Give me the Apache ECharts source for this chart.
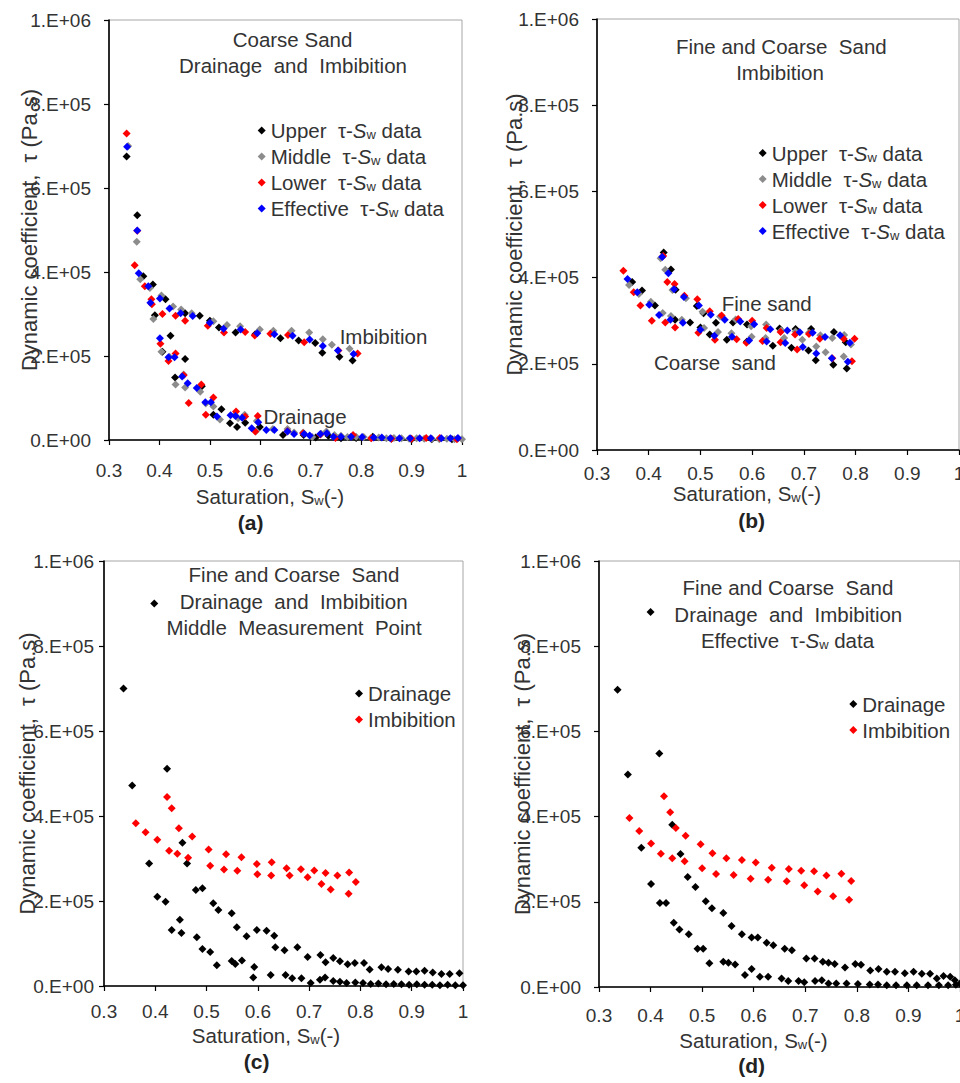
<!DOCTYPE html>
<html><head><meta charset="utf-8">
<script src="https://cdn.jsdelivr.net/npm/echarts@6.0.0/dist/echarts.min.js"></script>
<style>html,body{margin:0;padding:0;background:#fff}#c{width:960px;height:1083px}</style>
</head><body><div id="c"></div>
<script>
// ---------- tick labels ----------
const yTickLabels = ['0.E+00','2.E+05','4.E+05','6.E+05','8.E+05','1.E+06'];
const xTickLabels = ['0.3','0.4','0.5','0.6','0.7','0.8','0.9','1'];

// ---------- coarse sand data [Sw, tau (Pa.s)] ----------
const coarseUpperDrain = [[0.335,6.75e5],[0.356,5.35e5],[0.391,2.97e5],[0.406,2.10e5],[0.422,2.48e5],[0.431,1.49e5],[0.451,1.93e5],[0.484,1.28e5],[0.507,0.60e5],[0.523,0.73e5],[0.540,0.40e5],[0.554,0.31e5],[0.570,0.41e5],[0.599,0.31e5],[0.645,0.12e5],[0.686,0.12e5],[0.710,0.06e5],[0.735,0.10e5],[0.760,0.04e5],[0.790,0.05e5],[0.823,0.08e5],[0.860,0.03e5],[0.900,0.02e5],[0.940,0.02e5],[0.980,0.02e5]];
const coarseUpperImb = [[0.368,3.90e5],[0.387,3.70e5],[0.412,3.35e5],[0.451,3.02e5],[0.480,2.96e5],[0.500,2.84e5],[0.518,2.68e5],[0.551,2.56e5],[0.590,2.52e5],[0.640,2.42e5],[0.676,2.37e5],[0.709,2.31e5],[0.723,2.08e5],[0.757,1.98e5],[0.783,1.89e5]];
const coarseMiddleDrain = [[0.338,7.00e5],[0.355,4.72e5],[0.388,2.88e5],[0.404,2.10e5],[0.420,1.98e5],[0.432,1.32e5],[0.448,1.56e5],[0.451,1.25e5],[0.481,1.15e5],[0.492,0.87e5],[0.507,0.80e5],[0.520,0.49e5],[0.549,0.59e5],[0.556,0.52e5],[0.569,0.60e5],[0.591,0.20e5],[0.593,0.45e5],[0.625,0.26e5],[0.654,0.26e5],[0.667,0.18e5],[0.685,0.18e5],[0.703,0.07e5],[0.721,0.15e5],[0.731,0.20e5],[0.747,0.12e5],[0.760,0.10e5],[0.773,0.07e5],[0.790,0.08e5],[0.805,0.07e5],[0.820,0.05e5],[0.835,0.06e5],[0.850,0.04e5],[0.865,0.05e5],[0.880,0.04e5],[0.895,0.03e5],[0.910,0.04e5],[0.925,0.03e5],[0.940,0.03e5],[0.955,0.02e5],[0.970,0.03e5],[0.985,0.02e5],[1.000,0.02e5]];
const coarseMiddleImb = [[0.362,3.83e5],[0.381,3.62e5],[0.404,3.44e5],[0.427,3.18e5],[0.443,3.11e5],[0.464,3.02e5],[0.507,2.83e5],[0.534,2.74e5],[0.560,2.71e5],[0.599,2.63e5],[0.626,2.60e5],[0.662,2.60e5],[0.697,2.56e5],[0.724,2.40e5],[0.742,2.27e5],[0.777,2.17e5]];
const coarseLowerDrain = [[0.335,7.30e5],[0.356,4.98e5],[0.385,3.23e5],[0.402,2.29e5],[0.418,1.88e5],[0.432,2.06e5],[0.448,1.54e5],[0.458,0.88e5],[0.483,1.32e5],[0.492,0.60e5],[0.507,1.01e5],[0.552,0.68e5],[0.570,0.56e5],[0.590,0.20e5],[0.595,0.57e5],[0.654,0.21e5],[0.685,0.16e5],[0.719,0.13e5],[0.749,0.05e5],[0.784,0.12e5],[0.820,0.04e5],[0.860,0.03e5],[0.900,0.03e5],[0.929,0.05e5],[0.956,0.05e5],[0.990,0.02e5]];
const coarseLowerImb = [[0.351,4.16e5],[0.371,3.66e5],[0.384,3.35e5],[0.406,3.00e5],[0.432,2.96e5],[0.451,2.84e5],[0.496,2.72e5],[0.528,2.56e5],[0.570,2.57e5],[0.589,2.49e5],[0.620,2.53e5],[0.655,2.50e5],[0.687,2.33e5],[0.755,2.13e5],[0.793,2.06e5]];
const coarseEffDrain = [[0.336,6.98e5],[0.356,4.99e5],[0.382,3.27e5],[0.401,2.42e5],[0.418,1.97e5],[0.430,1.97e5],[0.445,1.51e5],[0.456,1.35e5],[0.474,1.24e5],[0.491,0.90e5],[0.502,0.90e5],[0.514,0.56e5],[0.541,0.59e5],[0.551,0.57e5],[0.564,0.53e5],[0.583,0.28e5],[0.596,0.42e5],[0.612,0.24e5],[0.628,0.24e5],[0.654,0.20e5],[0.667,0.14e5],[0.687,0.14e5],[0.698,0.11e5],[0.719,0.14e5],[0.732,0.16e5],[0.745,0.08e5],[0.760,0.08e5],[0.780,0.08e5],[0.802,0.07e5],[0.825,0.06e5],[0.841,0.06e5],[0.858,0.04e5],[0.876,0.04e5],[0.897,0.04e5],[0.916,0.04e5],[0.938,0.04e5],[0.959,0.04e5],[0.977,0.04e5],[0.992,0.05e5]];
const coarseEffImb = [[0.359,3.97e5],[0.378,3.66e5],[0.401,3.37e5],[0.420,3.13e5],[0.442,3.02e5],[0.466,2.95e5],[0.500,2.79e5],[0.527,2.65e5],[0.561,2.63e5],[0.594,2.54e5],[0.628,2.52e5],[0.664,2.48e5],[0.698,2.39e5],[0.724,2.24e5],[0.754,2.13e5],[0.785,2.05e5]];

// ---------- fine sand data [Sw, tau (Pa.s)] ----------
const fineUpperImb = [[0.429,4.58e5],[0.443,4.19e5],[0.452,3.72e5],[0.493,3.34e5],[0.506,3.17e5],[0.530,2.95e5],[0.563,2.96e5],[0.590,2.91e5],[0.653,2.82e5],[0.684,2.81e5],[0.714,2.81e5],[0.758,2.74e5],[0.781,2.50e5]];
const fineMiddleImb = [[0.423,4.45e5],[0.432,4.18e5],[0.446,3.71e5],[0.472,3.52e5],[0.504,3.21e5],[0.538,3.10e5],[0.568,3.03e5],[0.598,2.87e5],[0.627,2.91e5],[0.656,2.77e5],[0.684,2.75e5],[0.710,2.72e5],[0.732,2.66e5],[0.755,2.60e5],[0.778,2.67e5],[0.791,2.45e5]];
const fineLowerImb = [[0.428,4.50e5],[0.436,3.90e5],[0.450,3.85e5],[0.469,3.58e5],[0.494,3.50e5],[0.518,3.22e5],[0.541,3.12e5],[0.573,3.04e5],[0.600,3.00e5],[0.628,2.83e5],[0.655,2.74e5],[0.683,2.68e5],[0.710,2.69e5],[0.731,2.58e5],[0.777,2.58e5],[0.798,2.58e5]];
const fineEffImb = [[0.426,4.48e5],[0.438,4.10e5],[0.449,3.73e5],[0.468,3.55e5],[0.497,3.35e5],[0.520,3.14e5],[0.547,3.02e5],[0.577,2.98e5],[0.604,2.92e5],[0.635,2.80e5],[0.668,2.77e5],[0.692,2.73e5],[0.717,2.72e5],[0.741,2.62e5],[0.770,2.66e5],[0.789,2.49e5]];
const fineMiddleDrain = [[0.398,9.00e5],[0.423,5.11e5],[0.453,3.37e5],[0.462,2.88e5],[0.479,2.26e5],[0.492,2.30e5],[0.513,1.95e5],[0.523,1.79e5],[0.549,1.71e5],[0.559,1.38e5],[0.578,1.17e5],[0.598,1.32e5],[0.617,1.30e5],[0.632,1.18e5],[0.634,0.91e5],[0.652,0.84e5],[0.677,0.91e5],[0.697,0.68e5],[0.722,0.73e5],[0.732,0.56e5],[0.747,0.66e5],[0.760,0.58e5],[0.775,0.51e5],[0.789,0.54e5],[0.807,0.54e5],[0.818,0.39e5],[0.841,0.44e5],[0.854,0.40e5],[0.873,0.38e5],[0.894,0.34e5],[0.909,0.34e5],[0.925,0.36e5],[0.941,0.32e5],[0.958,0.28e5],[0.974,0.28e5],[0.993,0.30e5]];
const fineEffDrain = [[0.400,8.80e5],[0.417,5.48e5],[0.442,3.81e5],[0.458,3.12e5],[0.472,2.58e5],[0.487,2.35e5],[0.507,2.01e5],[0.519,1.85e5],[0.541,1.74e5],[0.557,1.43e5],[0.577,1.24e5],[0.596,1.16e5],[0.608,1.16e5],[0.625,1.04e5],[0.638,0.98e5],[0.660,0.90e5],[0.674,0.86e5],[0.702,0.67e5],[0.718,0.67e5],[0.734,0.59e5],[0.745,0.57e5],[0.757,0.54e5],[0.777,0.46e5],[0.797,0.54e5],[0.808,0.52e5],[0.826,0.39e5],[0.842,0.42e5],[0.858,0.36e5],[0.874,0.36e5],[0.893,0.32e5],[0.910,0.36e5],[0.926,0.31e5],[0.942,0.31e5],[0.955,0.20e5],[0.968,0.26e5],[0.981,0.24e5],[0.990,0.16e5],[1.000,0.08e5]];

// ---------- styling ----------
const FF = "'Liberation Sans', Arial, 'DejaVu Sans', sans-serif";
const TXT = '#333';
const COL = {upper:'#000000', middle:'#8c8c8c', lower:'#ff0000', eff:'#0000ff'};
const richBase = {
  n: {fontSize: 20.5, fontFamily: FF, color: TXT, lineHeight: 21},
  i: {fontSize: 20.5, fontFamily: FF, color: TXT, fontStyle: 'italic', lineHeight: 21},
  s: {fontSize: 13, fontFamily: FF, color: TXT, lineHeight: 9, verticalAlign: 'bottom'}
};
const legendLabel = {
  'Upper τ-Sw data': '{n|Upper  τ-}{i|S}{s|w}{n| data}',
  'Middle τ-Sw data': '{n|Middle  τ-}{i|S}{s|w}{n| data}',
  'Lower τ-Sw data': '{n|Lower  τ-}{i|S}{s|w}{n| data}',
  'Effective τ-Sw data': '{n|Effective  τ-}{i|S}{s|w}{n| data}',
  'Drainage': '{n|Drainage}',
  'Imbibition': '{n|Imbibition}'
};

const grids = [
  {left:109, top:20, width:353, height:420},
  {left:597, top:19, width:362, height:431},
  {left:104, top:561, width:359, height:425},
  {left:599, top:561, width:361, height:426}
];
const axisCfg = [
  {xMargin:21, yMargin:18, yGap:69, xGap:46, xPad:31},
  {xMargin:14, yMargin:18, yGap:72, xGap:33, xPad:62},
  {xMargin:16, yMargin:10, yGap:66, xGap:39, xPad:35},
  {xMargin:19, yMargin:18, yGap:66, xGap:43, xPad:52}
];

const xAxes = axisCfg.map((c, i) => ({
  gridIndex: i, type: 'value', min: 0.3, max: 1, interval: 0.1,
  axisLine: {show: true, onZero: false, lineStyle: {color: '#000', width: 1.6}},
  axisTick: {show: true, inside: false, length: 5, lineStyle: {color: '#000', width: 1.2}},
  splitLine: {show: false},
  axisLabel: {show: true, interval: 0, margin: c.xMargin, fontSize: 19, fontFamily: FF, color: TXT,
    formatter: v => xTickLabels[Math.round((v - 0.3) * 10)]},
  name: '{n|Saturation, S}{s|w}{n|(-)}',
  nameLocation: 'middle', nameGap: c.xGap, nameMoveOverlap: false,
  nameTextStyle: {rich: richBase, padding: [0, c.xPad, 0, 0]}
}));
const yAxes = axisCfg.map((c, i) => ({
  gridIndex: i, type: 'value', min: 0, max: 1e6, interval: 2e5,
  axisLine: {show: true, onZero: false, lineStyle: {color: '#000', width: 1.6}},
  axisTick: {show: true, inside: false, length: 5, lineStyle: {color: '#000', width: 1.2}},
  splitLine: {show: false},
  axisLabel: {show: true, interval: 0, margin: c.yMargin, fontSize: 19, fontFamily: FF, color: TXT,
    formatter: v => yTickLabels[Math.round(v / 2e5)]},
  name: 'Dynamic coefficient,  τ (Pa.s)',
  nameLocation: 'middle', nameGap: c.yGap, nameRotate: 90, nameMoveOverlap: false,
  nameTextStyle: {fontSize: 22, fontFamily: FF, color: TXT}
}));

function sc(name, data, color, gi) {
  return {type: 'scatter', name, data, xAxisIndex: gi, yAxisIndex: gi, symbol: 'diamond',
    symbolSize: 8, itemStyle: {color, opacity: 1}, silent: true, animation: false};
}
const series = [
  sc('Upper τ-Sw data', coarseUpperDrain.concat(coarseUpperImb), COL.upper, 0),
  sc('Middle τ-Sw data', coarseMiddleDrain.concat(coarseMiddleImb), COL.middle, 0),
  sc('Lower τ-Sw data', coarseLowerDrain.concat(coarseLowerImb), COL.lower, 0),
  sc('Effective τ-Sw data', coarseEffDrain.concat(coarseEffImb), COL.eff, 0),
  sc('Upper τ-Sw data', coarseUpperImb.concat(fineUpperImb), COL.upper, 1),
  sc('Middle τ-Sw data', coarseMiddleImb.concat(fineMiddleImb), COL.middle, 1),
  sc('Lower τ-Sw data', coarseLowerImb.concat(fineLowerImb), COL.lower, 1),
  sc('Effective τ-Sw data', coarseEffImb.concat(fineEffImb), COL.eff, 1),
  sc('Drainage', coarseMiddleDrain.concat(fineMiddleDrain), COL.upper, 2),
  sc('Imbibition', coarseMiddleImb.concat(fineMiddleImb), COL.lower, 2),
  sc('Drainage', coarseEffDrain.concat(fineEffDrain), COL.upper, 3),
  sc('Imbibition', coarseEffImb.concat(fineEffImb), COL.lower, 3)
];

function lg(left, top, names) {
  return {orient: 'vertical', left, top, itemWidth: 8, itemHeight: 8, itemGap: 5, selectedMode: false,
    data: names, formatter: n => legendLabel[n], textStyle: {rich: richBase}};
}
const fourNames = ['Upper τ-Sw data','Middle τ-Sw data','Lower τ-Sw data','Effective τ-Sw data'];
const legends = [
  lg(252.7, 115, fourNames),
  lg(753.7, 137.5, fourNames),
  lg(350, 678, ['Drainage','Imbibition']),
  lg(844.3, 688.5, ['Drainage','Imbibition'])
];

function t(x, y, text, extra) {
  return {type: 'text', x, y, silent: true,
    style: Object.assign({text, fill: TXT, fontSize: 20.5, fontFamily: FF,
      align: 'center', verticalAlign: 'middle', textAlign: 'center', textVerticalAlign: 'middle'}, extra || {})};
}
const bold = {fontWeight: 'bold', fontSize: 21, fill: '#222'};
const graphics = [
  t(292.5, 39.6, 'Coarse Sand'), t(293, 65.4, 'Drainage  and  Imbibition'),
  t(383.5, 336.4, 'Imbibition'), t(305, 416.2, 'Drainage'), t(250.7, 522, '(a)', bold),
  t(781.3, 46.4, 'Fine and Coarse  Sand'), t(780, 72.9, 'Imbibition'),
  t(766.7, 303.4, 'Fine sand'), t(715, 362.2, 'Coarse  sand'), t(751.7, 520, '(b)', bold),
  t(294, 574.4, 'Fine and Coarse  Sand'), t(293.7, 601.2, 'Drainage  and  Imbibition'),
  t(294, 627.7, 'Middle  Measurement  Point'), t(256.7, 1061, '(c)', bold),
  t(788, 587.1, 'Fine and Coarse  Sand'), t(788.3, 614, 'Drainage  and  Imbibition'),
  t(787.5, 640.4, '{n|Effective  τ-}{i|S}{s|w}{n| data}', {rich: richBase}),
  t(751.7, 1065, '(d)', bold)
];

const chart = echarts.init(document.getElementById('c'), null, {renderer: 'svg', width: 960, height: 1083});
chart.setOption({
  animation: false,
  backgroundColor: '#fff',
  grid: grids.map(g => Object.assign({show: true, borderColor: '#a6a6a6', borderWidth: 1,
    backgroundColor: 'transparent', containLabel: false, outerBoundsMode: 'none'}, g)),
  xAxis: xAxes,
  yAxis: yAxes,
  legend: legends,
  series,
  graphic: graphics
});
</script>
</body></html>
